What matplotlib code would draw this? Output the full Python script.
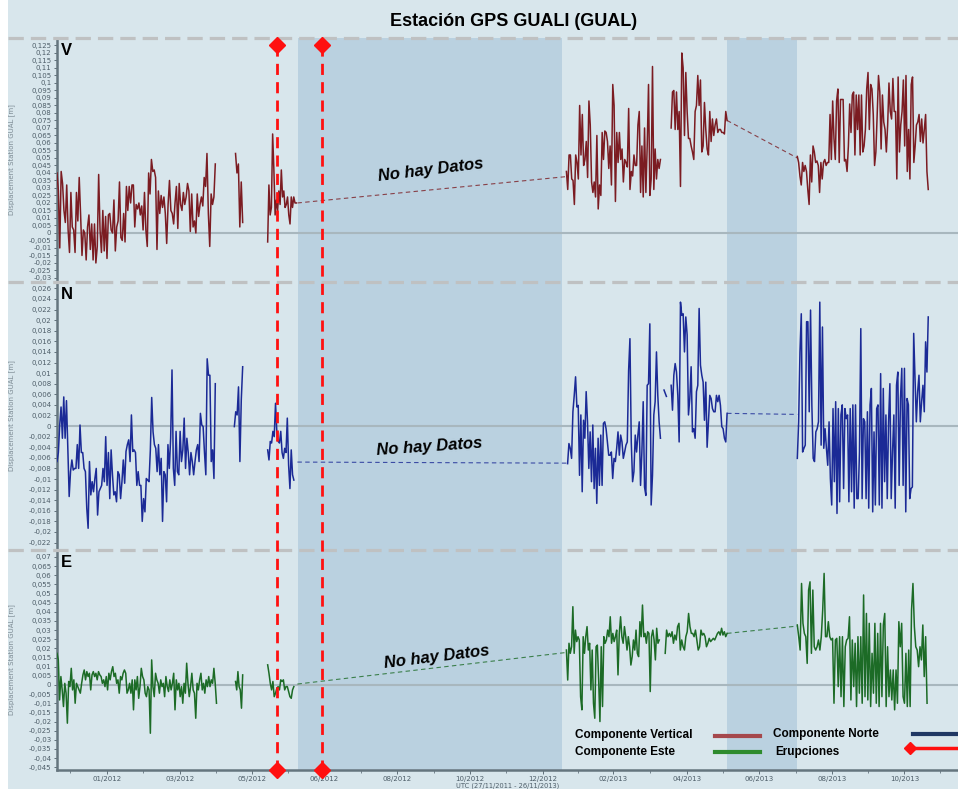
# Estacion GPS GUALI - desplazamientos V / N / E

import numpy as np
import matplotlib
matplotlib.use('Agg')
import matplotlib.pyplot as plt
import matplotlib.transforms as mtransforms
from matplotlib.lines import Line2D
from matplotlib.patches import Rectangle
from matplotlib.ticker import FuncFormatter

# ---- data (values in mm, days since start of record) ----
v_spans = [(0, 133), (150, 156), (177, 201), (428, 507), (516, 563), (622, 732)]
v1 = [40, 28, -10, 41, 33, 15, 7, 32, 2, -13, 27, 4, 2, -13, 27, 8, 37, 12, -15, 2, 0, -18, 4, 12, -11, 6, -18, 6, -20, -9,
      39, 2, -13, 15, -12, 11, -17, 12, 13, 2, 0, 22, -12, 4, 8, 34, -3, -5, 13, -6, 31, 15, 31, 20, 32, 32, 4, 19, 16, 20,
      12, 18, 2, 27, 2, -9, 40, 26, 49, 41, 42, 37, -11, 28, 13, 25, 17, 24, 13, -7, 19, 35, 15, 13, 6, 20, 31, 3, 33, 19,
      15, 27, 19, 24, 33, 28, 1, 26, 4, 8, 0, 26, 11, 19, 24, 18, 37, 31, 53, 13, -9, 26, 19, 24, 46]
v2 = [53, 40, 46, 4, 34, 7]
v3 = [-6, 32, 12, 17, 66, 42, 12, 22, 15, 28, 19, 42, 24, 28, 17, 19, 24, 12, 6, 24, 17, 24, 20, 20]
v4 = [41, 29, 52, 52, 36, 35, 19, 52, 47, 36, 85, 52, 79, 45, 49, 61, 37, 88, 72, 34, 27, 34, 24, 65, 16, 32, 25, 67, 49, 68,
      67, 61, 43, 58, 32, 99, 85, 21, 67, 47, 67, 49, 56, 34, 49, 47, 44, 83, 29, 41, 38, 52, 45, 45, 72, 81, 27, 58, 24, 70,
      27, 58, 99, 25, 36, 111, 29, 56, 36, 49, 43, 49]
v5 = [70, 94, 95, 69, 94, 69, 81, 31, 120, 110, 65, 107, 81, 63, 63, 58, 54, 49, 81, 85, 105, 85, 102, 54, 58, 87, 69, 56, 52,
      81, 61, 76, 65, 72, 76, 67, 69, 69, 67, 67, 66, 81, 75]
v6 = [51, 47, 38, 32, 47, 41, 45, 41, 29, 19, 52, 34, 58, 54, 47, 48, 45, 27, 47, 36, 47, 49, 45, 47, 47, 79, 49, 88, 63, 49,
      88, 96, 47, 89, 89, 89, 48, 49, 41, 58, 86, 67, 92, 94, 52, 92, 69, 92, 52, 92, 54, 58, 69, 96, 107, 69, 99, 96, 79, 45,
      54, 79, 105, 94, 56, 92, 74, 69, 54, 72, 100, 81, 76, 103, 81, 81, 36, 104, 54, 72, 81, 102, 58, 105, 41, 69, 36, 99,
      104, 47, 58, 72, 74, 79, 61, 76, 60, 69, 79, 41, 29]
v_bridge_days = [(202, 427), (563, 622)]
v_bridge_vals = [(20, 37.5), (75, 50)]

n_spans = [(0, 133), (149, 156), (177, 199), (429, 507), (510, 512), (516, 563), (622, 732)]
n1 = [-6.7, -5, 0.2, 3.6, -2.3, 5.5, -2.3, 4.8, -4.2, -13.3, -8.6, -6.4, -8.3, -8, -8, -3.5, -8, 0.2, -5, -5, -8, -8.6, -15.5,
      -19.3, -6.7, -13, -10.5, -12.4, -9.9, -8, -16.8, -12.4, -11.8, -11.2, -8, -10.5, -2, -11.2, -5, -13.7, -4.5, -9.2, -13,
      -12.4, -14.3, -8.6, -9.2, -13.7, -10.5, -6.4, -10.8, -4.8, -3.5, -2.6, -6.7, 2.1, -4.8, -4.5, -5, -11.2, -8.6, -11.2,
      -11.2, -18, -13.7, -16.2, -9.9, -10.2, -10.5, -4.5, 5.4, -1.1, -3.5, -4.2, -8.6, -3.5, -9.2, -6.1, -18, -8.6, -9.2,
      -14.3, -3.5, -8, -2.3, 10.6, -8, -11.2, -1, -8.6, -9.2, -1, -6.7, -4.5, 1.5, -8, -2.3, -5, -9.2, -5, -6.7, -9.2, -6.7,
      -4.5, -3.5, -6.7, 2.4, 0.2, -0.1, -5, -9.2, 12.7, 9.6, 9.6, -6.7, -4.5, -9.9, 8.0]
n2 = [-0.1, 2.7, 2.1, 7.4, -6.7, 5, 11.2]
n3 = [-4.5, -6.4, -2.9, -3.2, -1, -2, 4.3, -1.1, -2.9, -3.2, -1, -5, -6.1, -4.2, -5, 1.5, -7.4, -11.8, -4.5, -9.2, -10.2]
n4 = [-7.1, -3.3, -4.2, -6.1, 2.7, 5.8, 9.3, 3.6, 3.9, -9.3, 2.1, -12.4, 1.1, -2.3, 6.5, 0.8, -8, -1.1, -10.5, 0.2, -11.8,
      -4.2, -14.6, -2.3, -11.2, -1.7, -11.2, 0.5, 0.8, -0.5, -3, -5.5, -5.5, -4.9, -9.9, -6.1, -6.7, -4.2, -1.1, -5.5, -1.7,
      -3, -6.1, -4.9, -3.6, -3, 10.5, 16.5, -3, -10.5, -8.6, -1.7, -4.9, -1.7, 0.8, -11.2, -4.9, 4.6, -11.5, -13.1, 7.7, 8,
      19.3, -14.9, -9.3, 2.1, 4.6, 14, 5.8, 0.8, -2.3]
n4b = [6.8, 5.6]
n5 = [7.7, 3, 9.6, 11.8, 10.2, 5.8, -3, 23.4, 20.9, 21.2, 14, 20.6, 17.2, 2.1, 5.2, 11.2, -1.1, -0.5, -2.3, 6.5, 7.7, 22.2,
      11.5, 9.6, 8.3, 1.1, 8.3, -4, 0.8, 5.8, 5.2, 3.3, 2.7, 2.7, 5.8, 4.6, 5.8, 3.9, -0.1, -0.5, -2.3, -3, 2.4]
n6 = [-6.1, 0.8, 14, 21.2, -4.9, -4.2, -3.6, 19.7, 19.7, 2.7, 21.9, 3.9, -6.1, -6.7, -1.1, -0.5, 0.8, 23.4, -3.6, 18.7, -4.2,
      -0.5, -4.2, -7.4, 0.8, -9.9, -14.9, 3.3, -10.5, 4.6, -16.5, 3.3, -14.3, 2.1, 4, -11.8, 3.3, 1.4, 2.1, -14.3, 3.3, -12.4,
      4, -15.5, 4, -13.7, -13.7, -4.9, 18.4, -13.7, 1.4, 0.8, -13.7, 2.7, -15.5, 4, 7.1, -16.2, -1.1, -14.9, 3.3, 4, -14.9,
      9.9, -15.5, 7.1, -10.5, 2.1, -13.7, 0.8, 8, -13.7, -4.9, 2.1, -15.5, 7.7, 10.2, -11.2, 5.2, 10.9, -11.2, 10.9, -16.2,
      5.2, 4, -13.7, -11.8, -11.5, 17.5, 9, 0.8, 6.5, 9.6, 0.8, 4.6, 7.7, 2.7, 15.9, 10.2, 20.6]
n_bridge_days = [(202, 428), (563, 622)]
n_bridge_vals = [(-6.8, -7.0), (2.4, 2.2)]

e_spans = [(0, 134), (150, 156), (177, 199), (428, 506), (511, 563), (622, 731)]
e1 = [17.3, 13.7, -8.2, 4.6, -2.7, -11.8, 0.9, -4.5, -20.9, 1.9, -0.9, 9.1, -2.7, 2.8, -10, 0.9, -0.9, -2.7, -4.5, 0.9, 5.5,
      8.2, 2.8, 7.3, 4.6, 6.4, -2.7, 5.5, 7.3, 4.6, 6.4, 2.8, 7.3, 5.5, 4.6, 0.9, 2.8, -0.9, 4.6, -2.7, 6.4, 2.8, 7.3, 10,
      4.6, 6.4, 0.9, 2.8, -4.5, 4.6, 2.8, 6.4, 8.2, 6.4, -4.5, -2.7, 0.9, -4.5, 2.8, -13.6, 2.8, -2.7, 4.6, -7.3, -0.9, 9.1,
      4.6, 2.8, -4.5, -6.4, -0.9, -2.7, -26.4, 13.7, -0.9, -6.4, 6.4, 2.8, 0.9, -4.5, 2.8, -0.9, 0.9, -6.4, 4.6, -0.9, -3.6,
      2.8, -2.7, 0.9, 6.4, -13.6, 2.8, -2.7, 0.9, -6.4, -0.9, -10, 0.9, -4.5, 11.9, 0.9, -6.4, -0.9, 6.4, -2.7, -4.5, -18.2,
      0.9, -2.7, 2.8, 6.4, -2.7, 0.9, -4.5, 2.8, -0.9, 4.6, -0.9, 2.8, 0.9, 9.1, 0.9, -10]
e2 = [1.9, -2.7, 7.3, -0.9, -2.7, -12.7, 5.5]
e3 = [11, 6.4, 0.9, -2.7, 1.9, -6.4, -4.5, -1.8, -0.9, -2.7, 2.8, 1.9, 2.8, -2.7, -0.9, -0.9, -3.6, -6.4, -7.3, -2.7, -0.9]
e4 = [19.1, 2.7, 22.8, 17.3, 20.9, 42.8, 17.3, 30, 23.7, 26.4, 24.6, -6.4, -13.6, 26.4, 17.3, 26.4, 31.9, 19.1, 22.8, -2.7,
      19.1, -10, -18.2, 20.9, 21.8, 2.7, -20, 20.9, -11.8, 26.4, 22.8, 24.6, 30, 26.4, 37.3, 22.8, 28.2, 23.7, 26.4, 30, 5.5,
      28.2, 37.3, 26.4, 22.8, 31.9, 26.4, 19.1, 26.4, 20.9, 10.9, 15.5, 24.6, 19.1, 30, 17.3, 15.5, 34.6, 26.4, 43.7, 26.4,
      28.2, 22.8, 29.1, 28.2, -3.6, 26.4, 30, 24.6, 13.7, 31, 22.8, 24.6]
e5 = [17.3, 30, 26.4, 28.2, 26.4, 29.1, 22.8, 27.3, 24.6, 31.9, 33.7, 19.1, 24.6, 20.9, 19.1, 26.4, 29.1, 39.1, 31.9, 28.2,
      28.2, 26.4, 30, 24.6, 19.1, 20.9, 30, 27.3, 28.2, 26.4, 20.9, 22.8, 25.5, 23.7, 24.6, 25.5, 24.6, 26.4, 28.2, 29.1,
      27.3, 31, 27.3, 29.1, 26.4, 28.2]
e6 = [32.8, 26.4, 19.1, 55.5, 33.7, 28.2, 26.4, 11.8, 51.9, 56.4, 17.3, 51.9, 20.9, 19.1, 20.9, 24.6, 19.1, 26.4, 41, 61,
      26.4, 26.4, 34.6, 26.4, 24.6, 25.5, -10, 24.6, 25.5, -0.9, 26.4, -6.4, 26.4, -11.8, 20.9, 24.6, 25.5, 37.3, -8.2, 24.6,
      -0.9, 22.8, -11.8, 26.4, -4.5, 26.4, -10, 49.2, -6.4, 39.1, -8.2, 33.7, -11.8, 17.3, -4.5, 33.7, -10, 28.2, -11.8, 33.7,
      -6.4, 32.8, 39.1, -11.8, 20.9, -6.4, 8.2, -8.2, 8.2, -13.6, 8.2, -10, 34.6, 20.9, 33.7, -6.4, -10, 17.3, -11.8, 19.1,
      -11.8, 41, 55.5, 31.9, 20.9, 19.1, 10, 20.9, 13.7, 32.8, 4.6, 26.4, -10]
e_bridge_days = [(202, 427), (563, 622)]
e_bridge_vals = [(0.5, 17.7), (28.2, 32.2)]

eruption_days = [185, 223]
no_data_days = [(202.5, 424.5), (563, 622)]

tick_days = [42, 103, 164, 224, 286, 347, 408, 467, 529, 590, 651, 712]
tick_labels = ['01/2012', '03/2012', '05/2012', '06/2012', '08/2012', '10/2012', '12/2012',
               '02/2013', '04/2013', '06/2013', '08/2013', '10/2013']

# ---- style ----
bg = '#d8e6ec'
shade = '#bad1e0'
tick_col = '#4d5d68'
spine_col = '#65757e'

W, H = 958, 789
fig = plt.figure(figsize=(W / 100, H / 100), dpi=100, facecolor=bg)


def fx(px):
    return px / W


def fy(py):
    return 1 - py / H


def comma(v, pos):
    s = f'{v:.3f}'.rstrip('0').rstrip('.')
    if s in ('-0', '0', ''):
        s = '0'
    return s.replace('.', ',')


panels = [
    ('V', [v1, v2, v3, v4, v5, v6], v_spans, v_bridge_days, v_bridge_vals, '#7b1c22',
     (38, 282), (-0.0327, 0.13), np.arange(-30, 126, 5) / 1000),
    ('N', [n1, n2, n3, n4, n4b, n5, n6], n_spans, n_bridge_days, n_bridge_vals, '#1b2a96',
     (282, 550), (-0.0234, 0.0272), np.arange(-22, 27, 2) / 1000),
    ('E', [e1, e2, e3, e4, e5, e6], e_spans, e_bridge_days, e_bridge_vals, '#1c6b26',
     (550, 770), (-0.0465, 0.0738), np.arange(-45, 71, 5) / 1000),
]

axes = []
for name, segs, spans, bdays, bvals, col, (top, bot), ylim, yticks in panels:
    ax = fig.add_axes([fx(57), fy(bot), fx(958 - 57), (bot - top) / H], facecolor=bg)
    axes.append(ax)
    for a, b in no_data_days:
        ax.axvspan(a, b, color=shade, lw=0, zorder=0)
    ax.axhline(0, color='#a8b7be', lw=1.5, zorder=1)
    for vals, (d0, d1) in zip(segs, spans):
        x = np.linspace(d0, d1, len(vals))
        ax.plot(x, np.array(vals) / 1000, color=col, lw=1.1, zorder=3)
    for (d0, d1), (y0, y1) in zip(bdays, bvals):
        ax.plot([d0, d1], [y0 / 1000, y1 / 1000], color=col, lw=0.8, alpha=0.8,
                dashes=(4, 3), zorder=3)
    ax.set_xlim(0, 757)
    ax.set_ylim(*ylim)
    ax.set_yticks(yticks)
    ax.yaxis.set_major_formatter(FuncFormatter(comma))
    ax.tick_params(axis='y', labelsize=5, colors=tick_col, length=2, width=0.6, pad=2)
    ax.set_ylabel('Displacement Station GUAL [m]', fontsize=5, color='#7d8b94')
    ax.yaxis.set_label_coords(-0.047, 0.5)
    for s in ['top', 'right', 'bottom']:
        ax.spines[s].set_visible(False)
    ax.spines['left'].set_color(spine_col)
    ax.spines['left'].set_linewidth(1.8)
    ax.text(0.004, 1 - 5 / (bot - top), name, transform=ax.transAxes, va='top', ha='left',
            fontsize=12, fontweight='bold', family='Liberation Sans', color='black')
    ax.set_xticks([])

axE = axes[-1]
axE.spines['bottom'].set_visible(True)
axE.spines['bottom'].set_color(spine_col)
axE.spines['bottom'].set_linewidth(1.8)
axE.set_xticks(tick_days)
axE.set_xticklabels(tick_labels)
axE.set_xticks([(a + b) / 2 for a, b in zip(tick_days[:-1], tick_days[1:])] + [11, 742], minor=True)
axE.tick_params(axis='x', which='major', labelsize=5, colors=tick_col, length=3, width=0.6, pad=1)
axE.tick_params(axis='x', which='minor', colors=tick_col, length=2, width=0.5)

# dashed separators between panels
for py in [38, 282, 550]:
    fig.add_artist(Line2D([fx(8), 1], [fy(py), fy(py)], transform=fig.transFigure,
                          color='#bfc1c2', lw=2.3, dashes=(4.8, 2.2), zorder=5))

# eruptions: red dashed lines with diamonds across all panels
trans = mtransforms.blended_transform_factory(axE.transData, fig.transFigure)
for d in eruption_days:
    fig.add_artist(Line2D([d, d], [fy(45), fy(770)], transform=trans, color='#ff1010',
                          lw=2, dashes=(4, 2.6), zorder=6))
    fig.add_artist(Line2D([d, d], [fy(45), fy(770)], transform=trans, color='#ff1010',
                          lw=0, marker='D', markersize=8, zorder=7))

# "No hay Datos"
for (px, py, rot) in [(431, 170, 7), (429, 447, 4), (437, 657, 7)]:
    fig.text(fx(px), fy(py), 'No hay Datos', ha='center', va='center', rotation=rot,
             fontsize=12, fontweight='bold', fontstyle='italic', family='Liberation Sans', zorder=8)

# title
fig.text(fx(514), fy(22), 'Estación GPS GUALI (GUAL)', ha='center', va='center',
         fontsize=13, fontweight='bold', family='Liberation Sans')
fig.text(fx(508), fy(786), 'UTC (27/11/2011 - 26/11/2013)', ha='center', va='center',
         fontsize=4.8, color=tick_col)

# legend
leg_font = dict(fontsize=8.5, fontweight='bold', family='Liberation Sans', va='center', ha='left', zorder=9)
fig.text(fx(575), fy(735), 'Componente Vertical', **leg_font)
fig.text(fx(773), fy(734), 'Componente Norte', **leg_font)
fig.text(fx(575), fy(752), 'Componente Este', **leg_font)
fig.text(fx(775), fy(752), 'Erupciones', **leg_font)
fig.add_artist(Line2D([fx(715), fx(760)], [fy(736), fy(736)], transform=fig.transFigure,
                      color='#a5484c', lw=3, zorder=9))
fig.add_artist(Line2D([fx(913), fx(965)], [fy(734), fy(734)], transform=fig.transFigure,
                      color='#203864', lw=3, zorder=9))
fig.add_artist(Line2D([fx(715), fx(760)], [fy(752), fy(752)], transform=fig.transFigure,
                      color='#2e8b2e', lw=3, zorder=9))
fig.add_artist(Line2D([fx(910), fx(965)], [fy(748), fy(748)], transform=fig.transFigure,
                      color='#ff1010', lw=2.5, marker='D', markersize=6, zorder=9))

# white strip on the far left
fig.add_artist(Rectangle((0, 0), fx(8), 1, transform=fig.transFigure, color='white', lw=0, zorder=10))

plt.savefig('out.png', dpi=100, facecolor=fig.get_facecolor())
